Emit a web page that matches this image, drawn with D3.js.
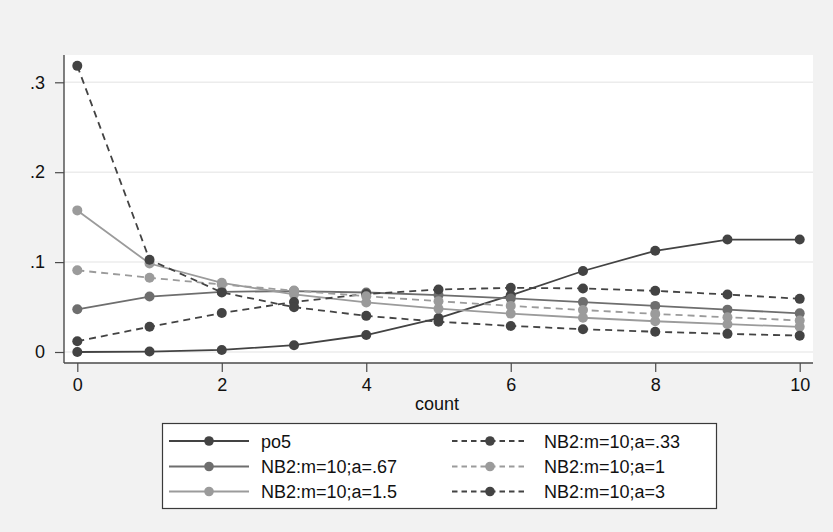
<!DOCTYPE html>
<html>
<head>
<meta charset="utf-8">
<script src="https://cdn.jsdelivr.net/npm/d3@7"></script>
<style>
  html, body { margin: 0; padding: 0; background: #f2f2f2; }
  svg { display: block; font-family: "Liberation Sans", Arial, Helvetica, sans-serif; }
</style>
</head>
<body>
<svg id="chart" width="833" height="532"></svg>
<script>
// counts on the x axis
const counts = [0, 1, 2, 3, 4, 5, 6, 7, 8, 9, 10];

// probabilities
const po5    = [0.0000, 0.0005, 0.0023, 0.0076, 0.0189, 0.0378, 0.0631, 0.0901, 0.1126, 0.1251, 0.1251];
const nb067  = [0.0475, 0.0617, 0.0669, 0.0678, 0.0662, 0.0633, 0.0596, 0.0555, 0.0513, 0.0471, 0.0430];
const nb15   = [0.1575, 0.0984, 0.0769, 0.0641, 0.0551, 0.0482, 0.0427, 0.0381, 0.0342, 0.0309, 0.0280];
const nb033  = [0.0120, 0.0280, 0.0433, 0.0557, 0.0644, 0.0695, 0.0714, 0.0707, 0.0680, 0.0640, 0.0591];
const nb1    = [0.0909, 0.0826, 0.0751, 0.0683, 0.0621, 0.0565, 0.0513, 0.0467, 0.0424, 0.0386, 0.0351];
const nb3    = [0.3183, 0.1027, 0.0663, 0.0499, 0.0402, 0.0337, 0.0290, 0.0254, 0.0225, 0.0202, 0.0182];

const yTicks = [0, 0.1, 0.2, 0.3];
const yTickLabels = ["0", ".1", ".2", ".3"];
const xTicks = [0, 2, 4, 6, 8, 10];

const series = [
  { name: "po5",           values: po5,   color: "#434343", dash: null },
  { name: "NB2:m=10;a=.67", values: nb067, color: "#6e6e6e", dash: null },
  { name: "NB2:m=10;a=1.5", values: nb15,  color: "#9b9b9b", dash: null },
  { name: "NB2:m=10;a=.33", values: nb033, color: "#434343", dash: "7,5" },
  { name: "NB2:m=10;a=1",   values: nb1,   color: "#9b9b9b", dash: "7,5" },
  { name: "NB2:m=10;a=3",   values: nb3,   color: "#434343", dash: "7,5" }
];

const svg = d3.select("#chart");
const W = 833, H = 532;

svg.append("rect").attr("width", W).attr("height", H).attr("fill", "#f2f2f2");

// plot region
const region = { left: 64, right: 813, top: 55, bottom: 363 };
svg.append("rect")
  .attr("x", region.left).attr("y", region.top)
  .attr("width", region.right - region.left)
  .attr("height", region.bottom - region.top)
  .attr("fill", "#ffffff");

const x = d3.scaleLinear().domain([0, 10]).range([77.3, 799.7]);
const y = d3.scaleLinear().domain([0, 0.3]).range([352, 82.3]);

// gridlines
svg.append("g").selectAll("line")
  .data(yTicks)
  .join("line")
  .attr("x1", region.left).attr("x2", region.right)
  .attr("y1", d => y(d)).attr("y2", d => y(d))
  .attr("stroke", "#ececec").attr("stroke-width", 1.5);

// y axis
const yAxis = d3.axisLeft(y)
  .tickValues(yTicks)
  .tickFormat((d, i) => yTickLabels[i])
  .tickSize(9)
  .tickPadding(10);
const gy = svg.append("g").attr("transform", `translate(${region.left},0)`).call(yAxis);
gy.select(".domain").attr("d", `M0,${region.top}V${region.bottom}`).attr("stroke", "#4a4a4a").attr("stroke-width", 1.4);
gy.selectAll(".tick line").attr("stroke", "#4a4a4a").attr("stroke-width", 1.2);
gy.selectAll(".tick text").attr("font-size", 18).attr("fill", "#111").attr("font-family", "Liberation Sans, Arial, sans-serif");

// x axis
const xAxis = d3.axisBottom(x)
  .tickValues(xTicks)
  .tickSize(9)
  .tickPadding(6);
const gx = svg.append("g").attr("transform", `translate(0,${region.bottom})`).call(xAxis);
gx.select(".domain").attr("d", `M${region.left},0H${region.right}`).attr("stroke", "#4a4a4a").attr("stroke-width", 1.4);
gx.selectAll(".tick line").attr("stroke", "#4a4a4a").attr("stroke-width", 1.2);
gx.selectAll(".tick text").attr("font-size", 18).attr("fill", "#111").attr("font-family", "Liberation Sans, Arial, sans-serif");

svg.append("text")
  .attr("x", 437).attr("y", 410)
  .attr("text-anchor", "middle")
  .attr("font-size", 18).attr("fill", "#111")
  .text("count");

// series
const line = d3.line().x((d, i) => x(counts[i])).y(d => y(d));
series.forEach(s => {
  const g = svg.append("g");
  g.append("path")
    .attr("d", line(s.values))
    .attr("fill", "none")
    .attr("stroke", s.color)
    .attr("stroke-width", 1.8)
    .attr("stroke-dasharray", s.dash);
  g.selectAll("circle")
    .data(s.values)
    .join("circle")
    .attr("cx", (d, i) => x(counts[i]))
    .attr("cy", d => y(d))
    .attr("r", 5)
    .attr("fill", s.color);
});

// legend
const lg = svg.append("g");
lg.append("rect")
  .attr("x", 162.5).attr("y", 423.5).attr("width", 554).attr("height", 85)
  .attr("fill", "#fff").attr("stroke", "#3a3a3a").attr("stroke-width", 1.2);

const rowY = [441, 466.5, 491.5];
const colX = [{ x1: 169, x2: 249, tx: 261 }, { x1: 452, x2: 528, tx: 544 }];
series.forEach((s, i) => {
  const col = i < 3 ? 0 : 1;
  const row = i % 3;
  const c = colX[col], cy = rowY[row];
  lg.append("line")
    .attr("x1", c.x1).attr("x2", c.x2).attr("y1", cy).attr("y2", cy)
    .attr("stroke", s.color).attr("stroke-width", 1.8)
    .attr("stroke-dasharray", s.dash ? "5.5,4" : null);
  lg.append("circle")
    .attr("cx", (c.x1 + c.x2) / 2).attr("cy", cy).attr("r", 4.8)
    .attr("fill", s.color);
  lg.append("text")
    .attr("x", c.tx).attr("y", cy + 6.5)
    .attr("font-size", 18).attr("fill", "#111")
    .text(s.name);
});
</script>
</body>
</html>
